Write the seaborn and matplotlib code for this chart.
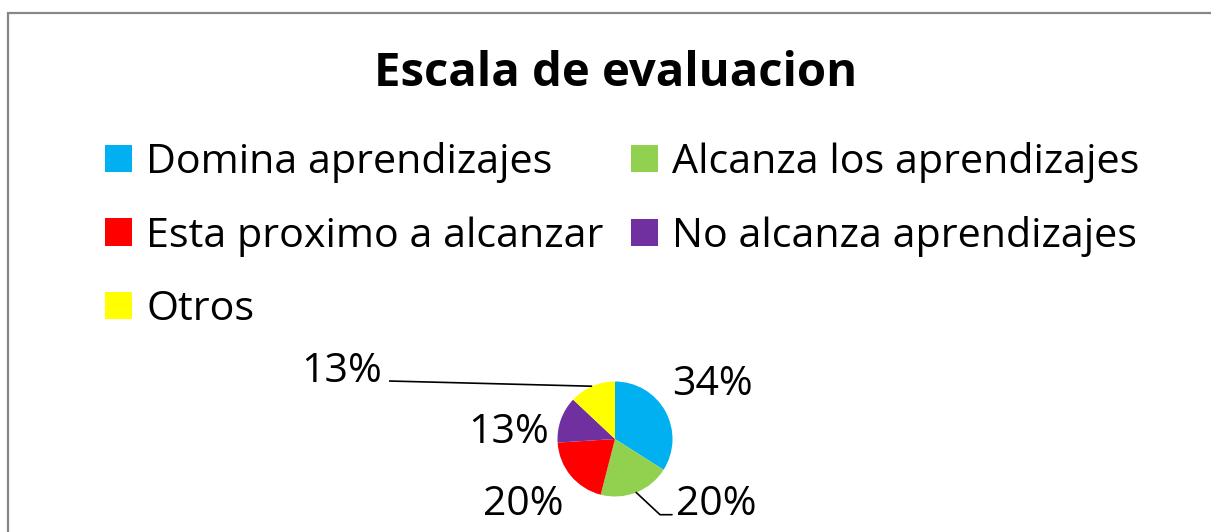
import matplotlib
matplotlib.use("Agg")
import matplotlib.pyplot as plt
import seaborn as sns
import numpy as np
from matplotlib.patches import Patch, Rectangle

# ---- data ----
categories = ["Domina aprendizajes", "Alcanza los aprendizajes",
              "Esta proximo a alcanzar", "No alcanza aprendizajes", "Otros"]
values = [34, 20, 20, 13, 13]
colors = ["#00B0F0", "#92D050", "#FF0000", "#7030A0", "#FFFF00"]
title = "Escala de evaluacion"

sns.set_theme(style="white")
plt.rcParams["font.family"] = ["Open Sans", "DejaVu Sans"]
plt.rcParams["text.color"] = "black"

W, H = 1211, 532
fig = plt.figure(figsize=(W / 100, H / 100), dpi=100)
fig.patch.set_facecolor("white")

# full-figure axes in pixel units (y measured upward)
ax = fig.add_axes([0, 0, 1, 1])

def py(y_top):
    return H - y_top

# chart border (gray, open to the right/bottom)
fig.add_artist(Rectangle((7.5 / W, -0.2), 1.5, (H - 12.5) / H + 0.2,
                         transform=fig.transFigure, fill=False,
                         edgecolor="#878787", linewidth=1.6))

# pie
cx, cy, r = 615, py(439), 57.5
palette = sns.color_palette(colors)
wedges, _ = ax.pie(values, colors=palette, startangle=90, counterclock=False,
                   center=(cx, cy), radius=r, frame=True,
                   wedgeprops=dict(linewidth=0))
ax.set_xlim(0, W)
ax.set_ylim(0, H)
ax.set_aspect("auto")
ax.set_axis_off()

total = float(sum(values))
fracs = np.cumsum([0] + values) / total
mid_angles = [90 - 360 * (fracs[i] + fracs[i + 1]) / 2 for i in range(len(values))]

# label layout (center x, baseline y in top-based pixels)
label_pos = [(712, 395), (716, 515), (523, 515), (509, 443), (341.5, 382)]
for i, v in enumerate(values):
    lx, ly = label_pos[i]
    ax.text(lx, py(ly), f"{v / total * 100:.0f}%", ha="center", va="baseline",
            fontsize=29.5, color="black")

# leader lines
def edge_point(i):
    a = np.deg2rad(mid_angles[i])
    return cx + r * np.cos(a), cy + r * np.sin(a)

ex, ey = edge_point(4)
ax.plot([389, ex], [py(381), ey], color="black", lw=1.2, solid_capstyle="butt")
ex, ey = edge_point(1)
ax.plot([ex, 660, 672], [ey, py(514.7), py(514.7)], color="black", lw=1.2)

# title
fig.text(616 / W, 1 - 86 / H, title, ha="center", va="baseline",
         fontsize=34, fontweight="bold", color="black")

# legend: two columns, row-major order as in the reference
handles = [Patch(facecolor=c, edgecolor="none") for c in colors]
col1 = [0, 2, 4]
col2 = [1, 3]
leg_kw = dict(frameon=False, fontsize=29.7, handlelength=0.655, handleheight=0.655,
              handletextpad=0.35, labelspacing=0.8, borderpad=0, borderaxespad=0,
              loc="upper left", labelcolor="black")
leg1 = fig.legend([handles[i] for i in col1], [categories[i] for i in col1],
                  bbox_to_anchor=(105 / W, 1 - 142 / H), **leg_kw)
leg2 = fig.legend([handles[i] for i in col2], [categories[i] for i in col2],
                  bbox_to_anchor=(631 / W, 1 - 142 / H), **leg_kw)

fig.savefig("out.png", dpi=100, facecolor="white")
